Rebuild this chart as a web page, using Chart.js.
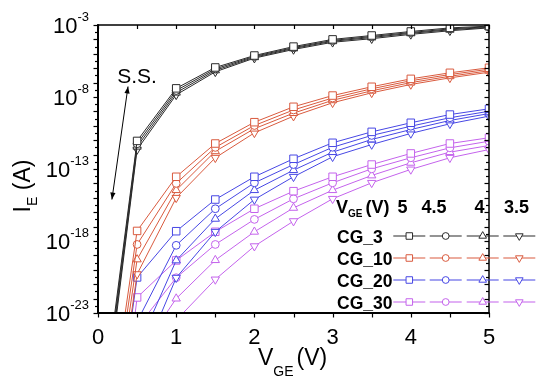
<!DOCTYPE html>
<html><head><meta charset="utf-8">
<script src="https://cdn.jsdelivr.net/npm/chart.js@4/dist/chart.umd.min.js"></script>
<style>html,body{margin:0;padding:0;background:#fff}#wrap{width:550px;height:384px;position:relative}</style>
</head><body><div id="wrap"><canvas id="c" width="550" height="384"></canvas></div>
<script>
// x values (V_GE, V)
const VGE = [0, 0.5, 1, 1.5, 2, 2.5, 3, 3.5, 4, 4.5, 5];
// legend columns (V_GE levels) and groups
const LEVELS = ['5', '4.5', '4', '3.5'];
const GROUPS = ['CG_3', 'CG_10', 'CG_20', 'CG_30'];
// log10(I_E / A), one row per level 5, 4.5, 4, 3.5
const CG3 = [
  [-32.0, -11.05, -7.40, -5.95, -5.12, -4.50, -4.00, -3.73, -3.45, -3.20, -3.08],
  [-32.5, -11.25, -7.55, -6.05, -5.18, -4.57, -4.07, -3.80, -3.52, -3.27, -3.12],
  [-33.0, -11.45, -7.70, -6.15, -5.24, -4.63, -4.13, -3.87, -3.58, -3.33, -3.16],
  [-33.5, -11.65, -7.85, -6.25, -5.30, -4.70, -4.20, -3.95, -3.65, -3.40, -3.20]
];
const CG10 = [
  [-36.0, -17.30, -13.54, -11.23, -9.75, -8.68, -7.90, -7.29, -6.74, -6.32, -5.97],
  [-37.0, -18.24, -14.00, -11.50, -9.98, -8.90, -8.07, -7.43, -6.87, -6.44, -6.07],
  [-38.0, -19.28, -14.47, -11.77, -10.20, -9.12, -8.23, -7.57, -7.00, -6.56, -6.18],
  [-39.0, -20.30, -15.00, -12.22, -10.49, -9.33, -8.40, -7.71, -7.13, -6.67, -6.28]
];
const CG20 = [
  [-40.0, -20.53, -17.32, -15.12, -13.54, -12.29, -11.18, -10.42, -9.79, -9.22, -8.82],
  [-41.0, -23.60, -18.30, -15.76, -13.96, -12.69, -11.49, -10.67, -10.03, -9.44, -8.99],
  [-42.0, -25.50, -19.35, -16.46, -14.47, -13.08, -11.83, -10.95, -10.26, -9.63, -9.15],
  [-43.0, -27.00, -20.55, -17.36, -15.12, -13.54, -12.15, -11.30, -10.53, -9.86, -9.33]
];
const CG30 = [
  [-44.0, -21.92, -19.35, -17.36, -15.76, -14.54, -13.54, -12.69, -11.92, -11.23, -10.83],
  [-45.0, -24.00, -20.55, -18.24, -16.50, -15.07, -13.96, -12.99, -12.22, -11.53, -11.07],
  [-46.0, -26.00, -22.00, -19.33, -17.36, -15.70, -14.47, -13.45, -12.57, -11.83, -11.37],
  [-47.0, -28.00, -23.50, -20.67, -18.36, -16.62, -15.07, -13.96, -13.03, -12.22, -11.65]
];
// y-axis decade labels (exponents)
const Y_LABEL_EXP = [-3, -8, -13, -18, -23];
const X_LABELS = [0, 1, 2, 3, 4, 5];
// annotation "S.S." arrow endpoints [V_GE, log10 I]
const SS_TOP = [0.384, -7.27];
const SS_BOTTOM = [0.178, -15.12];
const SS_TEXT = [0.5, -6.5];

const ALL = [CG3, CG10, CG20, CG30];
const COLORS = ['#2a2a2a', '#d95a3e', '#4747e4', '#c463ec'];
const STYLES = [
  {pointStyle: 'rect', rotation: 0, radius: 5.3, lr: 4.6},
  {pointStyle: 'circle', rotation: 0, radius: 3.9, lr: 3.4},
  {pointStyle: 'triangle', rotation: 0, radius: 4.8, lr: 4.4},
  {pointStyle: 'triangle', rotation: 180, radius: 4.8, lr: 4.4}
];

const datasets = [];
ALL.forEach((grp, g) => {
  grp.forEach((vals, k) => {
    datasets.push({
      label: GROUPS[g] + ' ' + LEVELS[k],
      data: VGE.map((x, i) => ({x: x, y: Math.pow(10, vals[i])})),
      borderColor: COLORS[g],
      backgroundColor: '#fff',
      borderWidth: 1,
      pointStyle: STYLES[k].pointStyle,
      pointRotation: STYLES[k].rotation,
      pointRadius: STYLES[k].radius,
      pointBorderWidth: 1,
      pointBackgroundColor: '#fff',
      pointBorderColor: COLORS[g],
      tension: 0
    });
  });
});

const FONT = '"Liberation Sans", Arial, Helvetica, sans-serif';

const deco = {
  id: 'deco',
  afterDraw(chart) {
    const ctx = chart.ctx, a = chart.chartArea;
    const xs = chart.scales.x, ys = chart.scales.y;
    const line = (x1, y1, x2, y2) => { ctx.beginPath(); ctx.moveTo(x1, y1); ctx.lineTo(x2, y2); ctx.stroke(); };
    ctx.save();
    ctx.strokeStyle = '#000';
    ctx.fillStyle = '#000';
    // frame
    ctx.lineWidth = 1.5;
    ctx.strokeRect(a.left, a.top, a.right - a.left, a.bottom - a.top);
    ctx.lineWidth = 2;
    line(a.left, a.top - 0.75, a.left, a.bottom + 1);
    line(a.left - 1, a.bottom, a.right + 0.75, a.bottom);
    // x ticks
    ctx.lineWidth = 1.2;
    for (let v = 0; v <= 5.0001; v += 0.5) {
      const px = Math.round(xs.getPixelForValue(v)) + 0.5;
      line(px, a.bottom, px, a.bottom + 4.5);
      line(px, a.top, px, a.top + 4);
    }
    // y ticks (half decades)
    for (let e = -3; e >= -23; e -= 0.5) {
      const py = Math.round(ys.getPixelForValue(Math.pow(10, e))) + 0.5;
      const L = Number.isInteger(e) ? 4.5 : 3;
      line(a.left - L, py, a.left, py);
      line(a.right - L, py, a.right, py);
    }
    // y tick labels
    ctx.textAlign = 'left';
    ctx.textBaseline = 'alphabetic';
    Y_LABEL_EXP.forEach(e => {
      const py = ys.getPixelForValue(Math.pow(10, e));
      const sup = '-' + Math.abs(e);
      ctx.font = '13px ' + FONT;
      const sw = ctx.measureText(sup).width;
      ctx.font = '22px ' + FONT;
      const tw = ctx.measureText('10').width;
      const right = 89;
      ctx.fillText('10', right - sw - tw, py + 8);
      ctx.font = '13px ' + FONT;
      ctx.fillText(sup, right - sw, py - 4);
    });
    // x tick labels
    ctx.font = '22px ' + FONT;
    ctx.textAlign = 'center';
    X_LABELS.forEach(v => {
      ctx.fillText(String(v), xs.getPixelForValue(v), 344);
    });
    // x title
    ctx.textAlign = 'left';
    let x0 = 258;
    ctx.font = '23px ' + FONT; ctx.fillText('V', x0, 365); x0 += ctx.measureText('V').width;
    ctx.font = '14px ' + FONT; ctx.fillText('GE', x0, 376); x0 += ctx.measureText('GE').width + 3;
    ctx.font = '23px ' + FONT; ctx.fillText('(V)', x0, 365);
    // y title (rotated)
    ctx.save();
    ctx.translate(30, 186);
    ctx.rotate(-Math.PI / 2);
    ctx.font = '23px ' + FONT;
    const wI = ctx.measureText('I').width;
    ctx.font = '14px ' + FONT;
    const wE = ctx.measureText('E').width;
    ctx.font = '23px ' + FONT;
    const wA = ctx.measureText(' (A)').width;
    let t = -(wI + wE + wA) / 2;
    ctx.fillText('I', t, 0); t += wI;
    ctx.font = '14px ' + FONT; ctx.fillText('E', t, 7); t += wE;
    ctx.font = '23px ' + FONT; ctx.fillText(' (A)', t, 0);
    ctx.restore();
    // S.S. annotation
    const ax1 = xs.getPixelForValue(SS_TOP[0]), ay1 = ys.getPixelForValue(Math.pow(10, SS_TOP[1]));
    const ax2 = xs.getPixelForValue(SS_BOTTOM[0]), ay2 = ys.getPixelForValue(Math.pow(10, SS_BOTTOM[1]));
    ctx.lineWidth = 1;
    line(ax1, ay1, ax2, ay2);
    const head = (tx, ty, fx, fy) => {
      const ang = Math.atan2(ty - fy, tx - fx), L = 7, W = 2.6;
      ctx.beginPath();
      ctx.moveTo(tx, ty);
      ctx.lineTo(tx - L * Math.cos(ang) + W * Math.sin(ang), ty - L * Math.sin(ang) - W * Math.cos(ang));
      ctx.lineTo(tx - L * Math.cos(ang) - W * Math.sin(ang), ty - L * Math.sin(ang) + W * Math.cos(ang));
      ctx.closePath(); ctx.fill();
    };
    head(ax1, ay1, ax2, ay2);
    head(ax2, ay2, ax1, ay1);
    ctx.font = '21px ' + FONT;
    ctx.textAlign = 'center';
    ctx.fillText('S.S.', xs.getPixelForValue(SS_TEXT[0]), ys.getPixelForValue(Math.pow(10, SS_TEXT[1])) + 7.5);
    // legend block
    ctx.textAlign = 'left';
    ctx.font = 'bold 18px ' + FONT;
    let hx = 336;
    ctx.fillText('V', hx, 213); hx += ctx.measureText('V').width;
    ctx.font = 'bold 10px ' + FONT; ctx.fillText('GE', hx, 217); hx += ctx.measureText('GE').width + 3;
    ctx.font = 'bold 18px ' + FONT; ctx.fillText('(V)', hx, 213);
    ctx.textAlign = 'center';
    const HEAD_X = [402.5, 434, 479.5, 516.5];
    LEVELS.forEach((lv, k) => ctx.fillText(lv, HEAD_X[k], 213));
    const ROW_Y = [236, 258, 280, 302];
    const COL_X = [409.3, 445.7, 482.7, 519.3];
    GROUPS.forEach((name, g) => {
      const ry = ROW_Y[g];
      ctx.fillStyle = '#000';
      ctx.textAlign = 'left';
      ctx.font = 'bold 17.5px ' + FONT;
      ctx.fillText(name, 337, ry + 6.5);
      ctx.strokeStyle = COLORS[g];
      ctx.lineWidth = 1.1;
      COL_X.forEach((cx, k) => {
        line(cx - 16, ry, cx + 16, ry);
      });
      COL_X.forEach((cx, k) => {
        ctx.fillStyle = '#fff';
        ctx.strokeStyle = COLORS[g];
        ctx.lineWidth = 1;
        Chart.helpers.drawPoint(ctx, {pointStyle: STYLES[k].pointStyle, rotation: STYLES[k].rotation, radius: STYLES[k].lr, borderWidth: 1}, cx, ry);
      });
    });
    ctx.restore();
  }
};

new Chart(document.getElementById('c'), {
  type: 'line',
  data: {datasets: datasets},
  options: {
    responsive: false,
    animation: false,
    devicePixelRatio: 1,
    layout: {padding: {top: 25, right: 61, left: 0, bottom: 0}},
    plugins: {legend: {display: false}, tooltip: {enabled: false}},
    scales: {
      x: {
        type: 'linear', min: 0, max: 5,
        ticks: {display: false},
        grid: {display: false},
        border: {display: false},
        afterFit: s => { s.height = 71; }
      },
      y: {
        type: 'logarithmic', min: 1e-23, max: 1e-3,
        ticks: {display: false},
        grid: {display: false},
        border: {display: false},
        afterFit: s => { s.width = 98; }
      }
    }
  },
  plugins: [deco]
});
</script>
</body></html>
